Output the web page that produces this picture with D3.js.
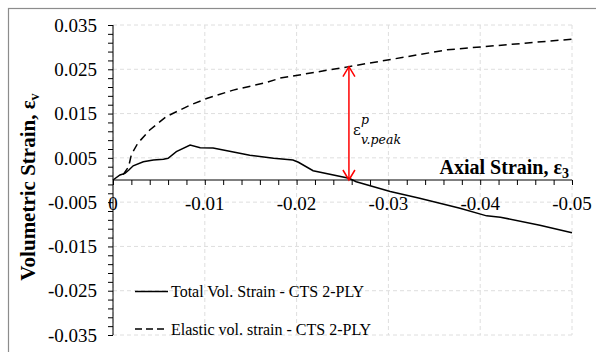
<!DOCTYPE html>
<html><head><meta charset="utf-8">
<script src="https://cdn.jsdelivr.net/npm/d3@7"></script>
<style>body{margin:0;background:#fff}svg{display:block}</style>
</head><body>
<svg id="c" width="596" height="352"></svg>
<script>
// Data
const totalX = [0,-0.00076,-0.0013,-0.0017,-0.0022,-0.0033,-0.0044,-0.0055,-0.0060,-0.0069,-0.0084,-0.0095,-0.0109,-0.0127,-0.0149,-0.0175,-0.0196,-0.0202,-0.0218,-0.0257,-0.0265,-0.0302,-0.0334,-0.0378,-0.0407,-0.0422,-0.0465,-0.0500];
const totalY = [0,0.00113,0.0015,0.0022,0.0032,0.0041,0.0045,0.0047,0.0049,0.0064,0.0079,0.0073,0.0072,0.0065,0.0056,0.0049,0.0045,0.0040,0.0021,0.0004,-0.0004,-0.0026,-0.0041,-0.0064,-0.0081,-0.0084,-0.0102,-0.0119];
const elasticX = [-0.0011,-0.0017,-0.0020,-0.0027,-0.0040,-0.0058,-0.0084,-0.0102,-0.0131,-0.0167,-0.0182,-0.0257,-0.0364,-0.0500];
const elasticY = [0.0012,0.0030,0.0057,0.0083,0.0113,0.0143,0.0169,0.0184,0.0203,0.0220,0.0230,0.0256,0.0294,0.0318];
const xTicks = [0,-0.01,-0.02,-0.03,-0.04,-0.05];
const xTickLabels = ["0","-0.01","-0.02","-0.03","-0.04","-0.05"];
const yTicks = [0.035,0.025,0.015,0.005,-0.005,-0.015,-0.025,-0.035];
const yTickLabels = ["0.035","0.025","0.015","0.005","-0.005","-0.015","-0.025","-0.035"];
const seriesNames = ["Total Vol. Strain - CTS 2-PLY","Elastic vol. strain - CTS 2-PLY"];
const peakX = -0.0257;
const peakY = 0.0256;

const svg = d3.select("#c");
const L=113, R=572, T=25, B=335;
const x = d3.scaleLinear().domain([0,-0.05]).range([L,R]);
const y = d3.scaleLinear().domain([-0.035,0.035]).range([B,T]);
const serif = "'Liberation Serif','Times New Roman',serif";

// outer border
svg.append("rect").attr("x",8.5).attr("y",8.5).attr("width",600).attr("height",360)
  .attr("fill","none").attr("stroke","#8c8c8c").attr("stroke-width",1.2);

// gridlines
const g = svg.append("g").attr("stroke","#dedede").attr("stroke-dasharray","4,3").attr("stroke-width",1);
yTicks.forEach(v=>g.append("line").attr("x1",L).attr("x2",R).attr("y1",y(v)).attr("y2",y(v)));
xTicks.forEach(v=>g.append("line").attr("x1",x(v)).attr("x2",x(v)).attr("y1",T).attr("y2",B));

// y axis
const yMinor = d3.range(0,36).map(i=>-0.035+i*0.002);
const yAx = svg.append("g").attr("transform",`translate(${L},0)`)
  .call(d3.axisLeft(y).tickValues(yMinor).tickSize(5).tickFormat(""));
yAx.select(".domain").attr("d",`M0,${T}V${B}`);
yAx.selectAll("line,path").attr("stroke","#000");
svg.append("g").selectAll("text").data(yTicks).join("text")
  .attr("x",97).attr("y",d=>y(d)).attr("dy","0.35em").attr("text-anchor","end")
  .attr("font-family",serif).attr("font-size",19).text((d,i)=>yTickLabels[i]);

// x axis
const xMinor = d3.range(0,26).map(i=>-i*0.002);
const xAx = svg.append("g").attr("transform",`translate(0,${y(0)})`)
  .call(d3.axisBottom(x).tickValues(xMinor).tickSize(5).tickFormat(""));
xAx.select(".domain").attr("d",`M${L},0H${R}`);
xAx.selectAll("line,path").attr("stroke","#000");
svg.append("g").selectAll("text").data(xTicks).join("text")
  .attr("x",d=>x(d)).attr("y",y(0)+23).attr("dy","0.35em").attr("text-anchor","middle")
  .attr("font-family",serif).attr("font-size",19).text((d,i)=>xTickLabels[i]);

// lines
const line = d3.line().x(d=>x(d[0])).y(d=>y(d[1]));
svg.append("path").datum(totalX.map((v,i)=>[v,totalY[i]])).attr("d",line)
  .attr("fill","none").attr("stroke","#000").attr("stroke-width",1.5);
svg.append("path").datum(elasticX.map((v,i)=>[v,elasticY[i]])).attr("d",line)
  .attr("fill","none").attr("stroke","#000").attr("stroke-width",1.5).attr("stroke-dasharray","8,5");

// red arrow
const px = x(peakX);
const yTop = y(peakY), yBot = y(0);
const red = svg.append("g").attr("stroke","#f00").attr("stroke-width",1.5).attr("fill","none");
red.append("line").attr("x1",px).attr("x2",px).attr("y1",yTop).attr("y2",yBot);
red.append("path").attr("d",`M${px-6},${yTop+10}L${px},${yTop}L${px+6},${yTop+10}`);
red.append("path").attr("d",`M${px-6},${yBot-10}L${px},${yBot}L${px+6},${yBot-10}`);

// annotation  ε^p_{v.peak}
const annFont = "'DejaVu Serif',serif";
svg.append("text").attr("x",353).attr("y",135).attr("font-family",annFont).attr("font-size",15).text("ε");
svg.append("text").attr("x",361).attr("y",124).attr("font-family",annFont).attr("font-style","italic").attr("font-size",12.5).text("p");
svg.append("text").attr("x",361).attr("y",144).attr("font-family",annFont).attr("font-style","italic").attr("font-size",12.5).text("v.peak");

// axis titles
const xt = svg.append("text").attr("x",569).attr("y",174).attr("text-anchor","end")
  .attr("font-family",serif).attr("font-weight","bold").attr("font-size",20);
xt.append("tspan").text("Axial Strain, ε");
xt.append("tspan").attr("font-size",14).attr("dy",4).text("3");

const yt = svg.append("text").attr("transform",`translate(35,187) rotate(-90)`).attr("text-anchor","middle")
  .attr("font-family",serif).attr("font-weight","bold").attr("font-size",21);
yt.append("tspan").text("Volumetric Strain, ε");
yt.append("tspan").attr("font-size",14).attr("dy",4).text("v");

// legend
const lg = svg.append("g");
[0,1].forEach(i=>{
  const yy = i===0?291.5:329;
  lg.append("line").attr("x1",135).attr("x2",168).attr("y1",yy).attr("y2",yy)
    .attr("stroke","#000").attr("stroke-width",1.5).attr("stroke-dasharray",i===1?"7,4":null);
  lg.append("text").attr("x",171).attr("y",yy).attr("dy","0.35em").attr("font-family",serif)
    .attr("font-size",16).text(seriesNames[i]);
});
</script>
</body></html>
